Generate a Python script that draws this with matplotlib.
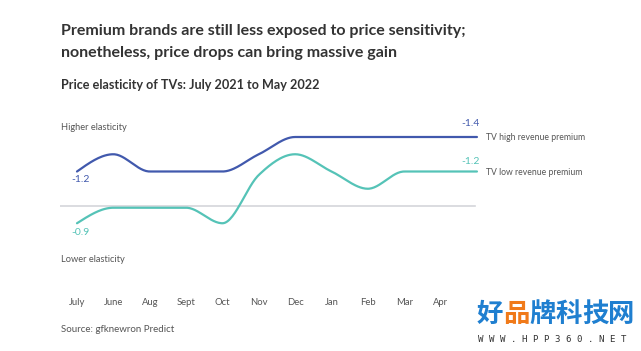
import numpy as np
import matplotlib
matplotlib.use("Agg")
import matplotlib.pyplot as plt

plt.rcParams["font.family"] = ["Lato", "DejaVu Sans"]

months = ["July", "June", "Aug", "Sept", "Oct", "Nov", "Dec", "Jan", "Feb", "Mar", "Apr", "May"]
high_premium = [-1.2, -1.30, -1.2, -1.2, -1.2, -1.30, -1.4, -1.4, -1.4, -1.4, -1.4, -1.4]
low_premium = [-0.9, -0.99, -0.99, -0.99, -0.90, -1.18, -1.30, -1.2, -1.10, -1.2, -1.2, -1.2]
reference_level = -1.0

BLUE = "#4159ad"
TEAL = "#55c3b7"
DARK = "#333333"
GREY = "#555555"


def monotone(x, y, n=30):
    """d3-style monotone X curve through the points."""
    x = np.asarray(x, float)
    y = np.asarray(y, float)
    h = np.diff(x)
    s = np.diff(y) / h
    m = np.zeros_like(y)
    for i in range(1, len(y) - 1):
        if s[i - 1] * s[i] <= 0:
            m[i] = 0
        else:
            p = (s[i - 1] * h[i] + s[i] * h[i - 1]) / (h[i - 1] + h[i])
            m[i] = np.sign(s[i - 1]) * min(abs(s[i - 1]), abs(s[i]), 0.5 * abs(p)) * 2
    m[0] = (3 * s[0] - m[1]) / 2
    m[-1] = (3 * s[-1] - m[-2]) / 2
    if s[0] * m[0] <= 0:
        m[0] = 0
    if s[-1] * m[-1] <= 0:
        m[-1] = 0
    xs, ys = [], []
    for i in range(len(x) - 1):
        t = np.linspace(0, 1, n)
        h00 = 2 * t**3 - 3 * t**2 + 1
        h10 = t**3 - 2 * t**2 + t
        h01 = -2 * t**3 + 3 * t**2
        h11 = t**3 - t**2
        xs.append(x[i] + t * h[i])
        ys.append(h00 * y[i] + h10 * h[i] * m[i] + h01 * y[i + 1] + h11 * h[i] * m[i + 1])
    return np.concatenate(xs), np.concatenate(ys)


W, H = 641, 351
TOP, BOT = 110, 295
fig = plt.figure(figsize=(W / 100, H / 100), dpi=100)
ax = fig.add_axes([60 / W, 1 - BOT / H, 420 / W, (BOT - TOP) / H])

idx = np.arange(len(months))
ax.axhline(reference_level, xmin=0, xmax=(475 - 60) / 420, color="#d4d6da", lw=1.2)
for vals, col in [(high_premium, BLUE), (low_premium, TEAL)]:
    cx, cy = monotone(idx, vals)
    ax.plot(cx, cy, color=col, lw=1.6, solid_capstyle="round")

# x: index 0 -> px 77, 36.36 px per step ; y: -1.2 -> px 171.5, 172.5 px per unit
ax.set_xlim((60 - 77) / 36.36, (480 - 77) / 36.36)
ax.set_ylim(-1.2 + (BOT - 171.5) / 172.5, -1.2 + (TOP - 171.5) / 172.5)
ax.set_xticks(idx[:-1])
ax.set_xticklabels(months[:-1], fontsize=6.8, color=GREY)
ax.tick_params(axis="x", length=0, pad=2.5)
ax.set_yticks([])
for sp in ax.spines.values():
    sp.set_visible(False)

# value labels
lab = dict(textcoords="offset points", ha="center", va="center", fontsize=7.5,
           annotation_clip=False)
ax.annotate(f"{high_premium[0]:.1f}", (idx[0], high_premium[0]), xytext=(2.5, -5.5), color=BLUE, **lab)
ax.annotate(f"{low_premium[0]:.1f}", (idx[0], low_premium[0]), xytext=(2.5, -6.5), color=TEAL, **lab)
ax.annotate(f"{high_premium[-1]:.1f}", (idx[-1], high_premium[-1]), xytext=(-4.5, 10), color=BLUE, **lab)
ax.annotate(f"{low_premium[-1]:.1f}", (idx[-1], low_premium[-1]), xytext=(-4.5, 7.5), color=TEAL, **lab)
ax.annotate("TV high revenue premium", (idx[-1], high_premium[-1]), xytext=(6.5, -0.5),
            textcoords="offset points", ha="left", va="center", fontsize=6.2, color=GREY,
            annotation_clip=False)
ax.annotate("TV low revenue premium", (idx[-1], low_premium[-1]), xytext=(6.5, -1),
            textcoords="offset points", ha="left", va="center", fontsize=6.2, color=GREY,
            annotation_clip=False)

fig.text(61 / W, 1 - 31 / H, "Premium brands are still less exposed to price sensitivity;",
         fontsize=11.5, fontweight="bold", color=DARK, va="center")
fig.text(61 / W, 1 - 53 / H, "nonetheless, price drops can bring massive gain",
         fontsize=11.5, fontweight="bold", color=DARK, va="center")
fig.text(61 / W, 1 - 85 / H, "Price elasticity of TVs: July 2021 to May 2022",
         fontsize=9.1, fontweight="bold", color=DARK, va="center")
fig.text(61 / W, 1 - 127 / H, "Higher elasticity", fontsize=6.7, color=GREY, va="center")
fig.text(61 / W, 1 - 260 / H, "Lower elasticity", fontsize=6.7, color=GREY, va="center")
fig.text(61 / W, 1 - 329 / H, "Source: gfknewron Predict", fontsize=7, color=GREY, va="center")

# site watermark
wm_font = ["Noto Sans CJK SC", "DejaVu Sans"]
x0 = 477
for ch, col in zip("好品牌科技网", ["#1f7fd0", "#f07a1a", "#1f7fd0", "#1f7fd0", "#1f7fd0", "#1f7fd0"]):
    fig.text(x0 / W, 1 - 314 / H, ch, fontsize=19, fontweight="bold", color=col,
             family=wm_font, va="center")
    x0 += 26.3
fig.text(478 / W, 1 - 339 / H, "W W W . H P P 3 6 0 . N E T", fontsize=6.6, color="#333333",
         family="DejaVu Sans Mono", va="center")

fig.savefig("out.png", dpi=100)
